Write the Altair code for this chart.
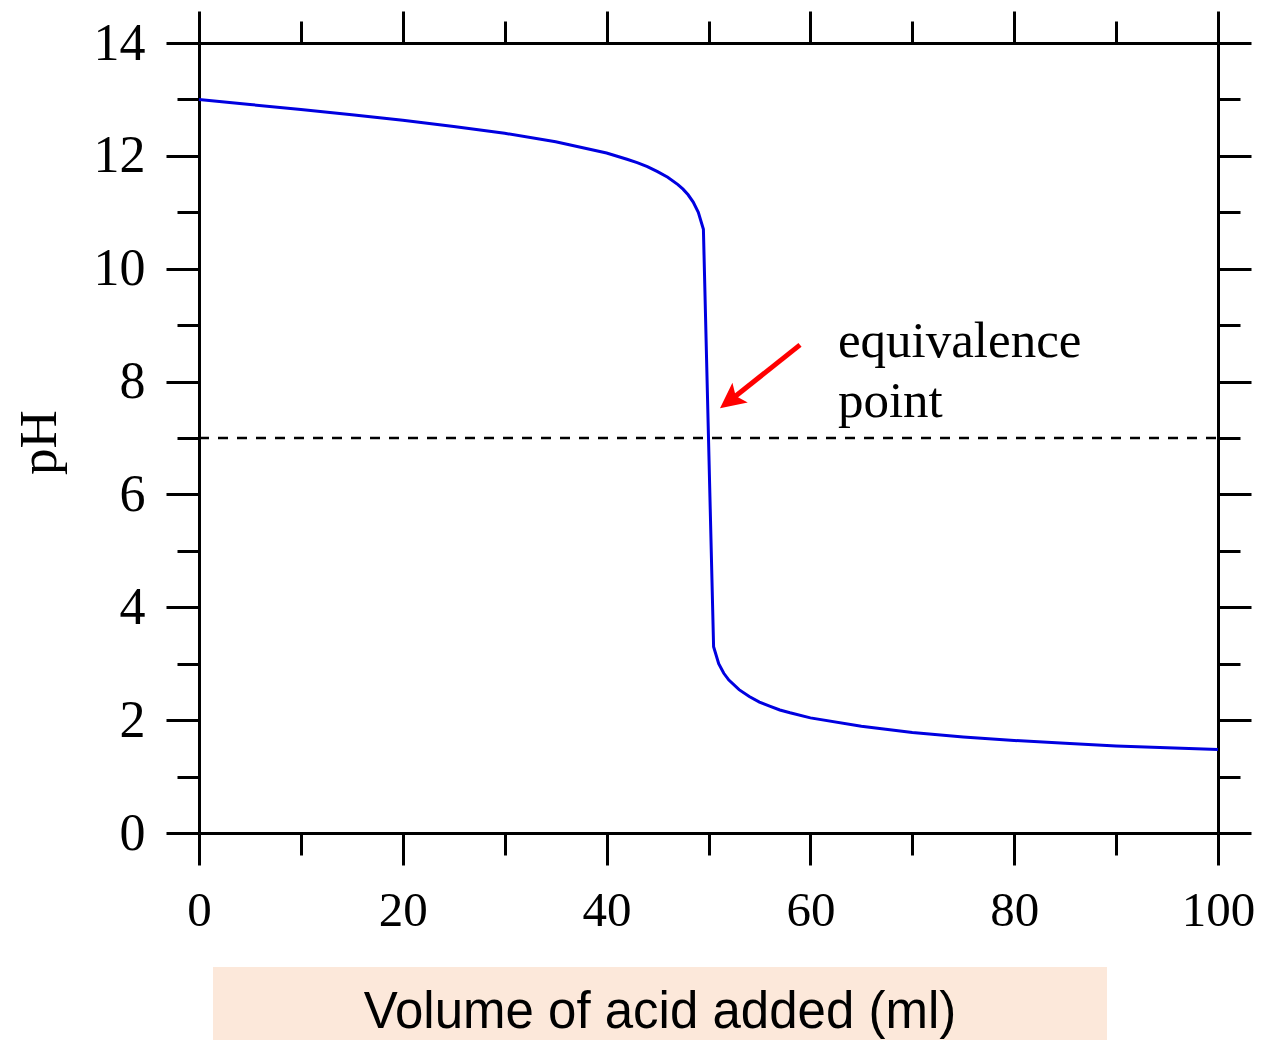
import altair as alt
import pandas as pd

# ---- data ----
volume_ml = [0, 5, 10, 15, 20, 25, 30, 35, 40, 42, 43, 44, 45, 46, 47, 47.5, 48, 48.5, 49, 49.5,
             50, 50.5, 51, 51.5, 52, 53, 54, 55, 56, 57, 58, 60, 65, 70, 75, 80, 85, 90, 95, 100]
ph_values = [13.00, 12.91, 12.82, 12.73, 12.63, 12.52, 12.40, 12.25, 12.05, 11.94, 11.88, 11.81, 11.72,
             11.62, 11.49, 11.41, 11.31, 11.18, 11.00, 10.70,
             7.00, 3.30, 3.00, 2.83, 2.71, 2.54, 2.42, 2.32, 2.25, 2.18, 2.13, 2.04, 1.89, 1.78, 1.70,
             1.64, 1.59, 1.54, 1.51, 1.48]

x_ticks = [0, 10, 20, 30, 40, 50, 60, 70, 80, 90, 100]
y_ticks = list(range(0, 15))

neutral_ph = [7.0]
neutral_x_start = [0]
neutral_x_end = [100]

arrow_x = [58.98, 52.36]
arrow_y = [8.65, 7.70]
arrow_head_x = [52.36]
arrow_head_y = [7.70]

note_lines = ["equivalence", "point"]
note_x = [62.7, 62.7]
note_y = [8.43, 7.37]

x_title = ["Volume of acid added (ml)"]
y_title = "pH"

# ---- tables ----
curve_df = pd.DataFrame({"volume": volume_ml, "ph": ph_values})
rule_df = pd.DataFrame({"x": neutral_x_start, "x2": neutral_x_end, "y": neutral_ph})
arrow_df = pd.DataFrame({"x": arrow_x, "y": arrow_y, "order": [0, 1]})
head_df = pd.DataFrame({"x": arrow_head_x, "y": arrow_head_y})
note_df = pd.DataFrame({"text": note_lines, "x": note_x, "y": note_y})
title_df = pd.DataFrame({"text": x_title})

x_scale = alt.Scale(domain=[0, 100], nice=False, zero=False)
y_scale = alt.Scale(domain=[0, 14], nice=False, zero=False)

SERIF = "Liberation Serif"

x_tick_size = {"condition": {"test": "datum.value % 20 !== 0", "value": 22}, "value": 32}
y_tick_size = {"condition": {"test": "datum.value % 2 !== 0", "value": 22}, "value": 33}

common_axis = dict(
    grid=False,
    domainColor="black",
    domainWidth=3,
    tickColor="black",
    tickWidth=3,
    labelColor="black",
    labelFont=SERIF,
    labelOverlap=False,
)

bottom_axis = alt.Axis(
    orient="bottom",
    values=x_ticks,
    tickSize=x_tick_size,
    labelExpr="datum.value % 20 === 0 ? datum.label : ''",
    labelFlush=False,
    labelFontSize=49,
    labelPadding=21,
    title=None,
    **common_axis,
)
top_axis = alt.Axis(
    orient="top",
    values=x_ticks,
    tickSize=x_tick_size,
    labels=False,
    title=None,
    **common_axis,
)
left_axis = alt.Axis(
    orient="left",
    values=y_ticks,
    tickSize=y_tick_size,
    labelExpr="datum.value % 2 === 0 ? datum.label : ''",
    labelFlush=False,
    labelFontSize=52,
    labelPadding=21,
    title=y_title,
    titleFont=SERIF,
    titleFontSize=53,
    titleFontWeight="normal",
    titleColor="black",
    titleAngle=270,
    titleAlign="center",
    titleBaseline="alphabetic",
    titleX=-144,
    titleY=399,
    **common_axis,
)
right_axis = alt.Axis(
    orient="right",
    values=y_ticks,
    tickSize=y_tick_size,
    labels=False,
    title=None,
    **common_axis,
)

curve = alt.Chart(curve_df).mark_line(color="#0000E0", strokeWidth=3).encode(
    x=alt.X("volume:Q", scale=x_scale, axis=bottom_axis),
    y=alt.Y("ph:Q", scale=y_scale, axis=left_axis),
)

frame = alt.Chart(curve_df).mark_line(opacity=0).encode(
    x=alt.X("volume:Q", scale=x_scale, axis=top_axis),
    y=alt.Y("ph:Q", scale=y_scale, axis=right_axis),
)

neutral = alt.Chart(rule_df).mark_rule(color="black", strokeWidth=2.5, strokeDash=[10, 9]).encode(
    x=alt.X("x:Q", scale=x_scale, axis=None),
    x2="x2:Q",
    y=alt.Y("y:Q", scale=y_scale, axis=None),
)

shaft = alt.Chart(arrow_df).mark_line(color="#FF0000", strokeWidth=5, strokeCap="butt").encode(
    x=alt.X("x:Q", scale=x_scale, axis=None),
    y=alt.Y("y:Q", scale=y_scale, axis=None),
    order="order:Q",
)

head = alt.Chart(head_df).mark_point(
    shape="M0,-1L0.78,0.6L0,0.25L-0.78,0.6Z",
    filled=True,
    color="#FF0000",
    opacity=1,
    size=1017,
    angle=232,
    strokeWidth=0,
).encode(
    x=alt.X("x:Q", scale=x_scale, axis=None),
    y=alt.Y("y:Q", scale=y_scale, axis=None),
)

note = alt.Chart(note_df).mark_text(
    font=SERIF, fontSize=51, color="black", align="left", baseline="alphabetic"
).encode(
    x=alt.X("x:Q", scale=x_scale, axis=None),
    y=alt.Y("y:Q", scale=y_scale, axis=None),
    text="text:N",
)

title_box = alt.Chart(title_df).mark_rect(color="#FCE8DA").encode(
    x=alt.value(14), x2=alt.value(908), y=alt.value(924), y2=alt.value(1000)
)
title_text = alt.Chart(title_df).mark_text(
    font="Liberation Sans", fontSize=51, color="black", align="center", baseline="alphabetic"
).encode(x=alt.value(461), y=alt.value(985), text="text:N")

chart = (
    alt.layer(frame, curve, neutral, shaft, head, note, title_box, title_text)
    .resolve_axis(x="independent", y="independent")
    .properties(
        width=1019,
        height=790,
        autosize=alt.AutoSizeParams(type="none"),
        padding={"left": 191, "top": 35, "right": 37, "bottom": 207},
        background="white",
    )
    .configure_view(stroke=None)
)

chart.save("out.html", embed_options={"renderer": "svg", "actions": False})
